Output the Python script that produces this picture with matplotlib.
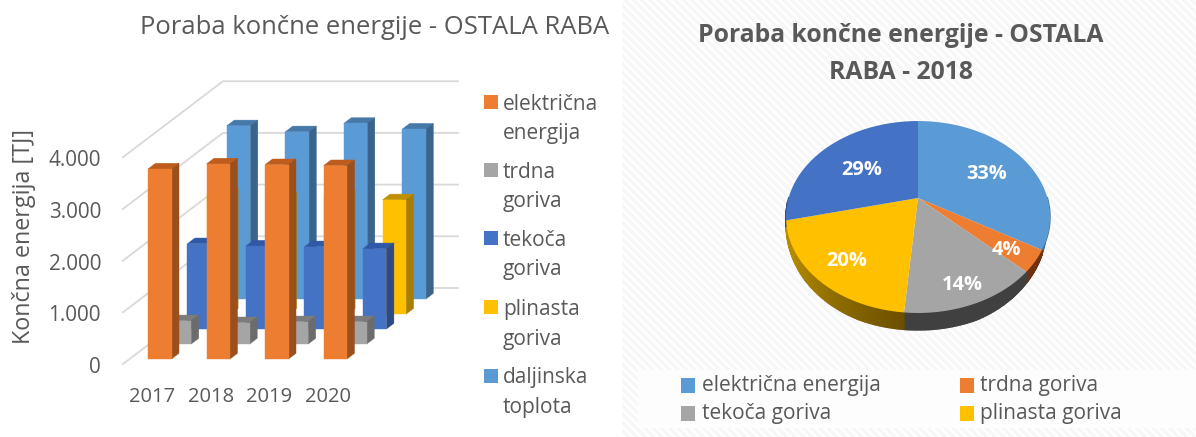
import numpy as np
import matplotlib
matplotlib.use("Agg")
import matplotlib.pyplot as plt
from matplotlib.patches import Polygon, Rectangle

years = ["2017", "2018", "2019", "2020"]
series_names = ["električna\nenergija", "trdna\ngoriva", "tekoča\ngoriva", "plinasta\ngoriva", "daljinska\ntoplota"]
elektricna = [3675, 3772, 3758, 3739]
trdna = [450, 412, 431, 431]
tekoca = [1650, 1605, 1592, 1553]
plinasta = [2330, 2240, 2290, 2210]
daljinska = [3352, 3236, 3398, 3288]
y_ticks = [0, 1000, 2000, 3000, 4000]
y_tick_labels = ["0", "1.000", "2.000", "3.000", "4.000"]
pie_names = ["električna energija", "trdna goriva", "tekoča goriva", "plinasta goriva"]
pie_values = [3772, 412, 1605, 2240, 3236]

plt.rcParams["font.family"] = ["Open Sans", "DejaVu Sans"]
plt.rcParams["hatch.linewidth"] = 2.5
TXT = "#595959"

fig = plt.figure(figsize=(11.96, 4.37), dpi=100)
ax = fig.add_axes([0, 0, 1, 1])
ax.set_xlim(0, 1196)
ax.set_ylim(437, 0)
ax.axis("off")
renderer = fig.canvas.get_renderer()


def fit_size(sample, width, **kw):
    """Font size at which sample is width pixels long."""
    t = ax.text(0, 0, sample, fontsize=20, **kw)
    w = t.get_window_extent(renderer).width
    t.remove()
    return 20 * width / w


# right panel background
ax.add_patch(Rectangle((622, 0), 574, 437, facecolor="white", edgecolor="#f7f7f7", hatch="\\\\\\\\", lw=0, zorder=0))
ax.add_patch(Rectangle((638, 370), 558, 58, facecolor="#fdfdfd", edgecolor="none", zorder=0.5))

# ---------- 3D bars ----------
FX, F0, PX = 123, 364, 51.7 / 1000
DX, DY = 100, -76


def proj(cat_x, value, depth):
    return (FX + cat_x + DX * depth, F0 - value * PX + DY * depth)


for k in y_ticks:
    a = proj(0, k, 0)
    b = proj(0, k, 1)
    c = proj(235, k, 1)
    ax.plot([a[0], b[0], c[0]], [a[1], b[1], c[1]], color="#d9d9d9", lw=1.3, zorder=1)

bar_series = [elektricna, trdna, tekoca, plinasta, daljinska]
front = ["#ED7D31", "#A5A5A5", "#4472C4", "#FFC000", "#5B9BD5"]
side = ["#9A4F1D", "#6C6C6C", "#2C4A85", "#A87E00", "#3A648C"]
top = ["#BE5C1E", "#7C7C7C", "#2F58A6", "#BF9000", "#4679A8"]
SP, BW, D0, DS, DB = 58.5, 23.5, 0.066, 0.197, 0.075

z = 2.0
for s in range(4, -1, -1):
    d = D0 + DS * s
    for i, v in enumerate(bar_series[s]):
        x0 = 18.4 + SP * i
        x1 = x0 + BW
        faces = [
            ([(x0, v, d), (x1, v, d), (x1, v, d + DB), (x0, v, d + DB)], top[s]),
            ([(x1, 0, d), (x1, 0, d + DB), (x1, v, d + DB), (x1, v, d)], side[s]),
            ([(x0, 0, d), (x1, 0, d), (x1, v, d), (x0, v, d)], front[s]),
        ]
        for pts, col in faces:
            ax.add_patch(Polygon([proj(*p) for p in pts], closed=True, facecolor=col, edgecolor=col, lw=0.3, zorder=z))
            z += 0.001

fs_tick = fit_size("4.000", 53)
fs_year = fit_size("2017", 46)
fs_ylab = fit_size("Končna energija [TJ]", 215)
fs_title = fit_size("Poraba končne energije - OSTALA RABA", 468)
fs_leg = fit_size("električna", 95)
fs_ptitle = fit_size("Poraba končne energije - OSTALA", 405, fontweight="bold")
fs_pct = fit_size("33%", 41, fontweight="bold")
fs_pleg = fit_size("električna energija", 178)

for k, lab in zip(y_ticks, y_tick_labels):
    ax.text(101, F0 - k * PX + 3.5, lab, ha="right", va="center", fontsize=fs_tick, color=TXT)
for i, lab in enumerate(years):
    ax.text(152.5 + SP * i, 397.5, lab, ha="center", va="center", fontsize=fs_year, color=TXT)
ax.text(24, 237, "Končna energija [TJ]", rotation=90, ha="center", va="center", fontsize=fs_ylab, color=TXT)
ax.text(375, 28, "Poraba končne energije - OSTALA RABA", ha="center", va="center", fontsize=fs_title, color=TXT)

leg_y = [104, 172, 240, 309, 378]
for name, col, y in zip(series_names, front, leg_y):
    ax.add_patch(Rectangle((484, y - 9), 14, 14, facecolor=col, edgecolor="none"))
    l1, l2 = name.split("\n")
    ax.text(503, y, l1, ha="left", va="center", fontsize=fs_leg, color=TXT)
    ax.text(503, y + 30, l2, ha="left", va="center", fontsize=fs_leg, color=TXT)

# ---------- perspective pie ----------
CX, CY, A, B, K, H = 918, 198, 92.2, 129.4, 0.198, 17
pie_cols = ["#5B9BD5", "#ED7D31", "#A5A5A5", "#FFC000", "#4472C4"]
pie_side = ["#3B6A94", "#6E3210", "#404040", "#8A6800", "#2C4A85"]
label_r = [0.65, 0.78, 0.82, 0.75, 0.6]


def pp(theta, r=1.0):
    u, v = r * np.sin(theta), -r * np.cos(theta)
    w = 1 - K * v
    return CX + B * u / w, CY + A * v / w


def depth(theta):
    u, v = np.sin(theta), -np.cos(theta)
    v0 = 0.05 if u < 0 else 0.45
    return H * np.clip((v - v0) / (0.93 - v0), 0, 1) ** 0.6


fr = np.array(pie_values, dtype=float) / np.sum(pie_values)
edges = np.concatenate([[0], np.cumsum(fr)]) * 2 * np.pi

for i in range(5):
    ts = np.linspace(edges[i], edges[i + 1], 90)
    for t0, t1 in zip(ts[:-1], ts[1:]):
        if -np.cos(t0) < 0 and -np.cos(t1) < 0:
            continue
        col = pie_side[i]
        if i == 3:  # shaded rim of the yellow slice
            f = (t0 - edges[3]) / (edges[4] - edges[3])
            c0 = np.array(matplotlib.colors.to_rgb("#6B5000"))
            c1 = np.array(matplotlib.colors.to_rgb("#B58A00"))
            col = tuple(c0 + (c1 - c0) * min(1, f * 1.3))
        p0, p1 = pp(t0), pp(t1)
        quad = [p0, p1, (p1[0], p1[1] + depth(t1)), (p0[0], p0[1] + depth(t0))]
        ax.add_patch(Polygon(quad, closed=True, facecolor=col, edgecolor=col, lw=1.0, zorder=5))

for i in range(5):
    ts = np.linspace(edges[i], edges[i + 1], 120)
    pts = [(CX, CY)] + [pp(t) for t in ts]
    ax.add_patch(Polygon(pts, closed=True, facecolor=pie_cols[i], edgecolor="none", zorder=6))
    mid = (edges[i] + edges[i + 1]) / 2
    lx, ly = pp(mid, label_r[i])
    ax.text(lx, ly + 4, f"{fr[i] * 100:.0f}%", ha="center", va="center", fontsize=fs_pct, fontweight="bold", color="white", zorder=7)

ax.text(901, 35.5, "Poraba končne energije - OSTALA", ha="center", va="center", fontsize=fs_ptitle, fontweight="bold", color=TXT)
ax.text(901, 72.5, "RABA - 2018", ha="center", va="center", fontsize=fs_ptitle, fontweight="bold", color=TXT)

leg_x = [681, 960, 681, 960]
leg_yy = [386, 386, 414, 414]
for name, col, x, y in zip(pie_names, pie_cols, leg_x, leg_yy):
    ax.add_patch(Rectangle((x, y - 8), 14, 15, facecolor=col, edgecolor="none", zorder=3))
    ax.text(x + 20.5, y, name, ha="left", va="center", fontsize=fs_pleg, color=TXT, zorder=3)

fig.savefig("out.png", dpi=100)
